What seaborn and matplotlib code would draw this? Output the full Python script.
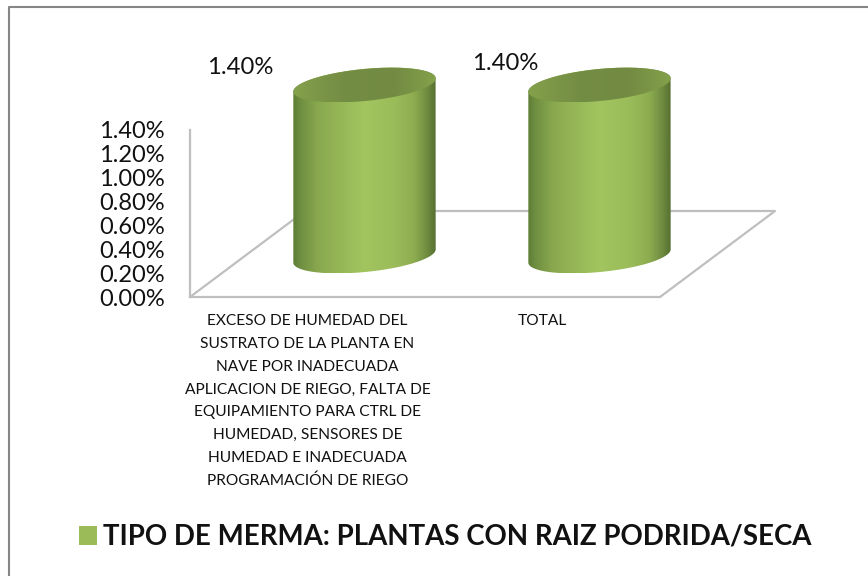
import numpy as np
import pandas as pd
import matplotlib
matplotlib.use("Agg")
import matplotlib.pyplot as plt
import seaborn as sns
from matplotlib.patches import Patch
from matplotlib.path import Path
from matplotlib.colors import LinearSegmentedColormap
from matplotlib.lines import Line2D
from matplotlib.transforms import IdentityTransform

categories = [
    "EXCESO DE HUMEDAD DEL\nSUSTRATO DE LA PLANTA EN\nNAVE POR INADECUADA\nAPLICACION DE RIEGO, FALTA DE\nEQUIPAMIENTO PARA CTRL DE\nHUMEDAD, SENSORES DE\nHUMEDAD E INADECUADA\nPROGRAMACIÓN DE RIEGO",
    "TOTAL",
]
values = [1.40, 1.40]
y_ticks = [0.0, 0.2, 0.4, 0.6, 0.8, 1.0, 1.2, 1.4]
series_name = "TIPO DE MERMA: PLANTAS CON RAIZ PODRIDA/SECA"

W, H = 868, 576
sns.set_theme(style="white")
plt.rcParams["font.family"] = ["Lato", "DejaVu Sans"]
fig = plt.figure(figsize=(W / 100, H / 100), dpi=100, facecolor="white")


def box(x0, y_top, x1, y_bot):
    return [x0 / W, 1 - y_bot / H, (x1 - x0) / W, (y_bot - y_top) / H]


# chart-area border (only left and top fall inside the picture)
fig.add_artist(Line2D([8.5 / W, 8.5 / W, 1.0], [0, 1 - 6.5 / H, 1 - 6.5 / H], transform=fig.transFigure,
                      color="#868686", lw=1.5))

GRID = "#bfbfbf"
# value axis and floor
ax = fig.add_axes(box(190, 130, 660, 297), facecolor="none")
ax.set_xlim(-0.5, 1.5)
ax.set_ylim(0, 1.4)
ax.set_yticks(y_ticks)
ax.set_yticklabels([f"{v:.2f}%" for v in y_ticks], fontsize=17.0, color="#111111")
ax.set_xticks(range(len(categories)))
ax.set_xticklabels(categories, fontsize=11.2, color="#111111", linespacing=1.79, va="top")
ax.tick_params(axis="both", length=0)
ax.tick_params(axis="y", pad=18)
ax.tick_params(axis="x", pad=12.5)
sns.despine(ax=ax)
for s in ("left", "bottom"):
    ax.spines[s].set_color(GRID)
    ax.spines[s].set_linewidth(1.6)
floor = dict(color=GRID, lw=1.6, transform=ax.transAxes, clip_on=False, solid_capstyle="round")
ax.plot([1, 1 + 115 / 470, 115 / 470, 0], [0, 86 / 167, 86 / 167, 0], **floor)

# cylinders
cyl = fig.add_axes(box(247, 85, 717, 256), facecolor="none")
df = pd.DataFrame({"cat": categories, "val": values})
sns.barplot(data=df, x="cat", y="val", order=categories, width=0.6, color="#9BBB59", ax=cyl,
            saturation=1, legend=False)
cyl.set_xlim(-0.5, 1.5)
cyl.set_ylim(0, 1.4)
cyl.axis("off")

stops = [(0, "#5f7d36"), (0.05, "#6f8f41"), (0.18, "#8aa94f"), (0.38, "#9abb59"), (0.5, "#a2c560"),
         (0.72, "#9abb59"), (0.85, "#8dac50"), (0.94, "#6f8c40"), (1, "#566f31")]
cmap = LinearSegmentedColormap.from_list("cyl", stops)
top_cmap = LinearSegmentedColormap.from_list("top", [(0, "#84a14b"), (0.35, "#748d44"),
                                                     (0.7, "#728a42"), (1, "#84a14b")])
TILT = 5.6
A, B = 71.5, 16.0
grad = np.linspace(0, 1, 256).reshape(1, -1)
t = np.linspace(0, 2 * np.pi, 200, endpoint=False)
rad = np.deg2rad(TILT)


def ell(cx, cy):
    x = A * np.cos(t) * np.cos(rad) - B * np.sin(t) * np.sin(rad)
    y = A * np.cos(t) * np.sin(rad) + B * np.sin(t) * np.cos(rad)
    return np.column_stack([cx + x, cy + y])


def arc(points, start, stop):
    n = len(points)
    idx = [(start + i) % n for i in range(((stop - start) % n) + 1)]
    return points[idx]


def painted(points, colormap, z):
    inv = cyl.transData.inverted()
    (x0, y0), (x1, y1) = inv.transform([(points[:, 0].min(), points[:, 1].min()),
                                        (points[:, 0].max(), points[:, 1].max())])
    im = cyl.imshow(grad, cmap=colormap, extent=(x0, x1, y0, y1), aspect="auto", zorder=z)
    im.set_clip_box(fig.bbox)
    im.set_clip_path(Path(np.vstack([points, points[:1]])), IdentityTransform())
    im.set_clip_box(fig.bbox)


fig.canvas.draw()
label_offsets = [(-124, 18), (-94, 21)]
for bar, val, off in zip(list(cyl.patches), values, label_offsets):
    (px0, py0) = cyl.transData.transform((bar.get_x(), 0))
    (px1, py1) = cyl.transData.transform((bar.get_x() + bar.get_width(), bar.get_height()))
    cx = (px0 + px1) / 2
    bot = ell(cx, py0)
    top = ell(cx, py1)
    il, ir = int(np.argmin(bot[:, 0])), int(np.argmax(bot[:, 0]))
    # lower half of bottom ellipse (left to right), upper half of top ellipse (right to left)
    lower = arc(bot, il, ir)
    if lower[:, 1].mean() > py0:
        lower = arc(bot, ir, il)[::-1]
    upper = arc(top, ir, il)
    if upper[:, 1].mean() < py1:
        upper = arc(top, il, ir)[::-1]
    painted(np.vstack([lower, upper]), cmap, 3)
    painted(top, top_cmap, 4)
    bar.set_visible(False)
    cyl.annotate(f"{val:.2f}%", (bar.get_x() + bar.get_width() / 2, bar.get_height()),
                 xytext=(off[0] * 0.72, off[1] * 0.72), textcoords="offset points",
                 ha="center", va="center", fontsize=17.2, color="#111111", annotation_clip=False)
cyl.set_xlim(-0.5, 1.5)
cyl.set_ylim(0, 1.4)

fig.legend(handles=[Patch(fc="#9BBB59", ec="none", label=series_name)], loc="center",
           bbox_to_anchor=(445.3 / W, 1 - 537 / H), frameon=False, handlelength=0.65, handleheight=0.65,
           handletextpad=0.2, prop={"size": 19.9, "weight": "bold"}, labelcolor="#111111")

fig.savefig("out.png", dpi=100)
